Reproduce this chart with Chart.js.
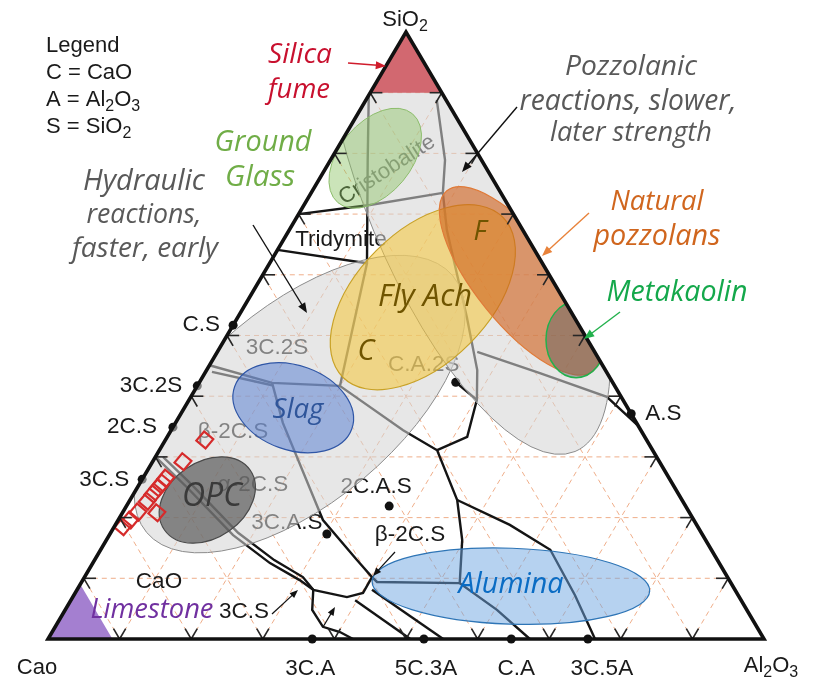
<!DOCTYPE html>
<html>
<head>
<meta charset="utf-8">
<title>CaO–Al2O3–SiO2 ternary map of cementitious materials</title>
<script src="https://cdn.jsdelivr.net/npm/chart.js@4.4.1/dist/chart.umd.min.js"></script>
<style>
  html, body { margin: 0; padding: 0; background: #ffffff; }
  canvas { display: block; }
</style>
</head>
<body>
<canvas id="chart" width="825" height="681" style="width:825px;height:681px"></canvas>
<script>
// Every composition is written as [Al2O3 %, SiO2 %]; CaO is the balance to 100 %.

// Grid steps along each side of the triangle (wt %)
const gridSteps = [10, 20, 30, 40, 50, 60, 70, 80, 90];

// Phase-field boundary curves
const tridymiteUpper   = [[0, 70.0], [9.2, 71.5], [18.4, 73.5]];
const tridymiteLower   = [[0, 64.1], [13.6, 61.9]];
const twoLiquidWest    = [[0, 89.6], [5.2, 78.9], [13.6, 61.9], [19.9, 41.8]];
const twoLiquidEast    = [[9.9, 88.8], [16.0, 78.9], [18.4, 73.5], [22.0, 67.4], [32.0, 53.0],
                          [37.8, 44.3], [40.2, 39.4], [41.9, 33.3], [38.8, 31.1]];
const wollastoniteEdge = [[0, 45.1], [10.2, 42.2], [19.9, 41.7], [32.4, 34.4], [38.8, 31.1],
                          [45.7, 22.9], [49.7, 16.3], [52.9, 9.2], [60.3, 4.8], [67.3, 0]];
const rankiniteEdge    = [[0.9, 44.0], [10.4, 41.8]];
const gehleniteEdge    = [[45.7, 22.9], [55.1, 18.8], [62.8, 14.7], [70.0, 7.2], [76.4, 0]];
const mulliteEdge      = [[36.3, 47.3], [46.8, 43.8], [58.1, 39.9], [64.6, 35.3]];
const anorthiteTie     = [[35.8, 42.3], [40.2, 39.4]];
const larniteEdge      = [[10.2, 42.2], [15.0, 35.6], [28.6, 19.6], [36.65, 13.0], [40.15, 10.2],
                          [41.25, 9.4], [52.9, 9.2]];
const aliteEdgeA       = [[0.3, 29.8], [6.9, 25.0], [17.3, 17.1], [24.75, 12.5], [30.3, 9.7],
                          [33.0, 8.1], [38.3, 6.9], [40.2, 7.6], [40.15, 10.2]];
const aliteEdgeB       = [[1.06, 30.0], [7.4, 25.4], [17.8, 17.5], [25.1, 13.0], [30.5, 10.2], [33.0, 8.1]];
const limeLoop         = [[33.0, 8.1], [34.5, 4.8], [37.4, 2.0], [40.2, 1.15], [42.6, 0]];
const mayeniteWest     = [[39.7, 6.4], [50.6, 0]];
const mayeniteEast     = [[41.2, 8.1], [55.2, 0]];

const phaseCurves = [tridymiteUpper, tridymiteLower, twoLiquidWest, twoLiquidEast, wollastoniteEdge,
                     rankiniteEdge, gehleniteEdge, mulliteEdge, anorthiteTie, larniteEdge,
                     aliteEdgeA, aliteEdgeB, limeLoop, mayeniteWest, mayeniteEast];

// Compounds
const compoundNames = ['C.S', '3C.2S', '2C.S', '3C.S', '3C.A', '5C.3A', 'C.A', '3C.5A',
                       'A.S', 'C.A.2S', '2C.A.S', '3C.A.S'];
const compoundComp  = [[0, 51.7], [0, 41.7], [0, 34.9], [0, 26.3], [36.9, 0], [52.5, 0], [64.7, 0], [75.4, 0],
                       [62.9, 37.1], [35.8, 42.3], [36.7, 21.9], [30.3, 17.3]];

// Individual binder samples (open red squares)
const sampleComp = [[1.2, 18.5], [1.65, 19.6], [2.1, 20.9], [2.5, 22.7], [2.7, 23.9], [2.9, 24.9],
                    [3.1, 25.7], [3.2, 26.5], [4.25, 29.2], [5.5, 32.8], [4.8, 20.8]];

// Material fields: centre composition, semi-axes (in % units) and tilt (degrees, anticlockwise)
const zones = [
  { at: [15.8, 38.7], a: 27.9, b: 13.7, angle: 40,   fill: 'rgba(212,212,212,0.56)', stroke: '#8c8c8c', lw: 1 },
  { at: [21.9, 73.5], a: 39.1, b: 14.2, angle: -67.5, fill: 'rgba(212,212,212,0.56)', stroke: '#8c8c8c', lw: 1 },
  { at: [6.1, 79.2],  a: 8.1,  b: 5.0,  angle: 50,   fill: 'rgba(140,195,100,0.45)', stroke: '#8dbd6c', lw: 1 },
  { at: [24.2, 56.3], a: 15.8, b: 9.2,  angle: 45,   fill: 'rgba(245,198,55,0.55)',  stroke: '#c9a227', lw: 1.2 },
  { at: [36.4, 59.0], a: 16.2, b: 6.1,  angle: -51,  fill: 'rgba(208,98,30,0.62)',   stroke: '#e07b39', lw: 1.2 },
  { at: [49.1, 49.3], a: 4.2,  b: 5.3,  angle: 0,    fill: 'rgba(100,100,100,0.5)',  stroke: '#22b14c', lw: 1.5 },
  { at: [15.2, 38.1], a: 8.7,  b: 5.9,  angle: -20,  fill: 'rgba(80,122,210,0.5)',   stroke: '#2f56a6', lw: 1.2 },
  { at: [10.8, 22.9], a: 7.3,  b: 5.3,  angle: 35,   fill: 'rgba(85,85,85,0.68)',    stroke: '#4a4a4a', lw: 1.2 },
  { at: [60.3, 8.7],  a: 19.4, b: 5.3,  angle: -2,   fill: 'rgba(110,165,225,0.5)',  stroke: '#2e75b6', lw: 1.2 },
  { corners: [[0, 100], [0, 90], [10, 90]], fill: 'rgba(205,72,82,0.8)' },
  { corners: [[0, 0], [9, 0], [0, 9]], fill: '#a47fd0' }
];

// ---------- helpers ----------
const toXY = ([a, s]) => ({ x: a + s / 2, y: s });

function px(chart, comp) {
  const p = toXY(comp);
  return [chart.scales.x.getPixelForValue(p.x), chart.scales.y.getPixelForValue(p.y)];
}

function trianglePath(chart) {
  const ctx = chart.ctx;
  const a = px(chart, [0, 0]), b = px(chart, [100, 0]), c = px(chart, [0, 100]);
  ctx.beginPath();
  ctx.moveTo(a[0], a[1]); ctx.lineTo(b[0], b[1]); ctx.lineTo(c[0], c[1]); ctx.closePath();
}

function seg(chart, p, q) {
  const ctx = chart.ctx;
  const [x1, y1] = px(chart, p), [x2, y2] = px(chart, q);
  ctx.beginPath(); ctx.moveTo(x1, y1); ctx.lineTo(x2, y2); ctx.stroke();
}

// Text with "_d" subscripts (e.g. Al_2O_3); an optional width fixes the rendered size
function richText(ctx, str, x, y, opt) {
  let size = opt.size || 22;
  const family = opt.family || '"Liberation Sans", Arial, sans-serif';
  const style = opt.style || '';
  const parts = [];
  let buf = '';
  for (let k = 0; k < str.length; k++) {
    if (str[k] === '_') {
      if (buf) parts.push({ t: buf, sub: false });
      buf = '';
      parts.push({ t: str[k + 1], sub: true });
      k++;
    } else buf += str[k];
  }
  if (buf) parts.push({ t: buf, sub: false });
  const measure = (sz) => {
    let w = 0;
    for (const p of parts) {
      ctx.font = `${style} ${p.sub ? Math.round(sz * 0.72) : sz}px ${family}`;
      p.w = ctx.measureText(p.t).width;
      w += p.w;
    }
    return w;
  };
  let w = measure(size);
  if (opt.width) { size = size * opt.width / w; w = measure(size); }
  const subSize = Math.round(size * 0.72);
  let cx = opt.align === 'center' ? x - w / 2 : opt.align === 'right' ? x - w : x;
  ctx.fillStyle = opt.color || '#1a1a1a';
  ctx.textAlign = 'left';
  ctx.textBaseline = 'middle';
  for (const p of parts) {
    ctx.font = `${style} ${p.sub ? subSize : size}px ${family}`;
    ctx.fillText(p.t, cx, p.sub ? y + size * 0.3 : y);
    cx += p.w;
  }
}

function arrow(ctx, from, to, color, width, head) {
  const [x1, y1] = from, [x2, y2] = to;
  const ang = Math.atan2(y2 - y1, x2 - x1);
  ctx.save();
  ctx.strokeStyle = color; ctx.fillStyle = color; ctx.lineWidth = width;
  ctx.beginPath(); ctx.moveTo(x1, y1);
  ctx.lineTo(x2 - Math.cos(ang) * head * 0.8, y2 - Math.sin(ang) * head * 0.8); ctx.stroke();
  ctx.beginPath();
  ctx.moveTo(x2, y2);
  ctx.lineTo(x2 - head * Math.cos(ang - 0.38), y2 - head * Math.sin(ang - 0.38));
  ctx.lineTo(x2 - head * Math.cos(ang + 0.38), y2 - head * Math.sin(ang + 0.38));
  ctx.closePath(); ctx.fill();
  ctx.restore();
}

// ---------- label layout ----------
const compoundLabelPlace = {
  'C.S':    [-13, 0, 'right'],
  '3C.2S':  [-15, 0, 'right'],
  '2C.S':   [-16, 0, 'right'],
  '3C.S':   [-13, 0, 'right'],
  '3C.A':   [-2, 30, 'center'],
  '5C.3A':  [2, 30, 'center'],
  'C.A':    [5, 30, 'center'],
  '3C.5A':  [14, 30, 'center'],
  'A.S':    [14, 0, 'left'],
  'C.A.2S': [-32, -17, 'center'],
  '2C.A.S': [-13, -19, 'center'],
  '3C.A.S': [-40, -11, 'center']
};

const phaseLabels = [
  { text: 'Tridymite', x: 341, y: 240 },
  { text: '3C.2S', x: 277, y: 348 },
  { text: 'β-2C.S', x: 233, y: 432 },
  { text: 'α-2C.S', x: 253, y: 485 },
  { text: 'β-2C.S', x: 410, y: 535 },
  { text: 'CaO', x: 159, y: 582 },
  { text: '3C.S', x: 244, y: 612 }
];

const notes = [
  { text: 'Silica', x: 300, y: 55, w: 64, color: '#c8102e' },
  { text: 'fume', x: 299, y: 90, w: 62, color: '#c8102e' },
  { text: 'Ground', x: 263, y: 143, w: 97, color: '#70ad47' },
  { text: 'Glass', x: 260, y: 178, w: 70, color: '#70ad47' },
  { text: 'Pozzolanic', x: 631, y: 67, w: 132, color: '#595959' },
  { text: 'reactions, slower,', x: 628, y: 102, w: 217, color: '#595959' },
  { text: 'later strength', x: 631, y: 133, w: 162, color: '#595959' },
  { text: 'Natural', x: 657, y: 202, w: 93, color: '#d0661e' },
  { text: 'pozzolans', x: 657, y: 237, w: 127, color: '#d0661e' },
  { text: 'Metakaolin', x: 677, y: 293, w: 141, color: '#14a84b' },
  { text: 'Hydraulic', x: 144, y: 182, w: 122, color: '#595959' },
  { text: 'reactions,', x: 144, y: 215, w: 115, color: '#595959' },
  { text: 'faster, early', x: 145, y: 249, w: 146, color: '#595959' },
  { text: 'Fly Ach', x: 425, y: 297, w: 94, color: '#6f5400' },
  { text: 'C', x: 366, y: 352, w: 17, color: '#6f5400' },
  { text: 'F', x: 480, y: 232, w: 13, color: '#6f5400' },
  { text: 'Slag', x: 298, y: 410, w: 51, color: '#2f559a' },
  { text: 'OPC', x: 212, y: 497, w: 60, color: '#3a3a3a' },
  { text: 'Alumina', x: 511, y: 585, w: 105, color: '#0a6cc4' },
  { text: 'Limestone', x: 152, y: 610, w: 123, color: '#7030a0' }
];

const pointers = [
  { from: [348, 63], to: [386, 66], color: '#d01c2c', w: 1.4, head: 11 },
  { from: [517, 107], to: [462, 172], color: '#111111', w: 1.4, head: 11 },
  { from: [253, 225], to: [307, 313], color: '#111111', w: 1.4, head: 11 },
  { from: [589, 213], to: [542, 256], color: '#e8823a', w: 1.4, head: 11 },
  { from: [620, 312], to: [584, 339], color: '#22b14c', w: 1.4, head: 11 },
  { from: [395, 552], to: [373, 576], color: '#111111', w: 1.2, head: 9 },
  { from: [272, 614], to: [298, 590], color: '#111111', w: 1.2, head: 9 },
  { from: [323, 627], to: [335, 607], color: '#111111', w: 1.2, head: 9 }
];

const legendLines = ['Legend', 'C = CaO', 'A = Al_2O_3', 'S = SiO_2'];

// ---------- drawing plugin ----------
const ternaryPlugin = {
  id: 'ternaryFrame',
  beforeDatasetsDraw(chart) {
    const ctx = chart.ctx;
    ctx.save();
    ctx.setLineDash([5, 4]);
    ctx.strokeStyle = 'rgba(236,160,118,0.85)';
    ctx.lineWidth = 1;
    for (const k of gridSteps) {
      seg(chart, [0, k], [100 - k, k]);
      seg(chart, [k, 0], [k, 100 - k]);
      seg(chart, [100 - k, 0], [0, 100 - k]);
    }
    ctx.restore();
  },
  beforeDatasetDraw(chart, args) {
    if (chart.data.datasets[args.index].label !== 'samples') return;
    const ctx = chart.ctx;
    ctx.save();
    // compound and phase-field names (sit under the translucent fields)
    compoundNames.forEach((name, i) => {
      const [x, y] = px(chart, compoundComp[i]);
      const [dx, dy, align] = compoundLabelPlace[name];
      richText(ctx, name, x + dx, y + dy, { size: 22.5, align });
    });
    for (const l of phaseLabels) richText(ctx, l.text, l.x, l.y, { size: 22.5, align: 'center' });
    ctx.save();
    ctx.translate(387, 170);
    ctx.rotate(-33 * Math.PI / 180);
    richText(ctx, 'Cristobalite', 0, 0, { size: 22, align: 'center' });
    ctx.restore();

    // material fields
    const unit = chart.scales.x.getPixelForValue(1) - chart.scales.x.getPixelForValue(0);
    trianglePath(chart);
    ctx.clip();
    for (const z of zones) {
      ctx.beginPath();
      if (z.corners) {
        z.corners.forEach((c, i) => {
          const [x, y] = px(chart, c);
          if (i === 0) ctx.moveTo(x, y); else ctx.lineTo(x, y);
        });
        ctx.closePath();
      } else {
        const [cx, cy] = px(chart, z.at);
        ctx.ellipse(cx, cy, z.a * unit, z.b * unit, -z.angle * Math.PI / 180, 0, Math.PI * 2);
      }
      ctx.fillStyle = z.fill;
      ctx.fill();
      if (z.stroke) { ctx.strokeStyle = z.stroke; ctx.lineWidth = z.lw; ctx.stroke(); }
    }
    ctx.restore();
  },
  afterDatasetsDraw(chart) {
    const ctx = chart.ctx;
    ctx.save();
    // edge ticks at every grid step
    ctx.strokeStyle = '#262626';
    ctx.lineWidth = 1.6;
    const t = 1.7;
    for (const k of gridSteps) {
      seg(chart, [k, 0], [k, t]);
      seg(chart, [k, 0], [k - t, t]);
      seg(chart, [0, k], [t, k]);
      seg(chart, [0, k], [t, k - t]);
      seg(chart, [100 - k, k], [100 - k - t, k]);
      seg(chart, [100 - k, k], [100 - k, k - t]);
    }
    // triangle frame
    ctx.lineWidth = 3.6;
    ctx.lineJoin = 'miter';
    ctx.strokeStyle = '#111111';
    trianglePath(chart);
    ctx.stroke();

    // corner names
    richText(ctx, 'SiO_2', 405, 20, { size: 22, align: 'center' });
    richText(ctx, 'Cao', 37, 668, { size: 22, align: 'center' });
    richText(ctx, 'Al_2O_3', 771, 666, { size: 22, align: 'center' });

    // legend block
    legendLines.forEach((l, i) => richText(ctx, l, 46, 46 + i * 27, { size: 22, align: 'left' }));

    // annotations
    for (const n of notes) {
      richText(ctx, n.text, n.x, n.y, {
        size: 26, width: n.w, align: 'center', color: n.color, style: 'italic',
        family: '"Open Sans", "Noto Sans", sans-serif'
      });
    }
    for (const p of pointers) arrow(ctx, p.from, p.to, p.color, p.w, p.head);
    ctx.restore();
  }
};

// ---------- chart ----------
const datasets = [];
datasets.push({
  label: 'samples',
  data: sampleComp.map(toXY),
  pointStyle: 'rect',
  rotation: 40,
  pointRadius: 8.5,
  borderColor: '#d62b2b',
  borderWidth: 2.2,
  backgroundColor: 'rgba(0,0,0,0)',
  showLine: false,
  order: 0
});
datasets.push({
  label: 'compounds',
  data: compoundComp.map(toXY),
  pointRadius: 4.5,
  backgroundColor: '#111111',
  borderWidth: 0,
  showLine: false,
  order: 1
});
phaseCurves.forEach((curve, i) => datasets.push({
  label: 'boundary ' + i,
  data: curve.map(toXY),
  showLine: true,
  borderColor: '#141414',
  borderWidth: 2.4,
  pointRadius: 0,
  tension: 0,
  fill: false,
  order: 2
}));

new Chart(document.getElementById('chart'), {
  type: 'scatter',
  data: { datasets },
  options: {
    responsive: false,
    animation: false,
    events: [],
    layout: { padding: 0, autoPadding: false },
    plugins: { legend: { display: false }, tooltip: { enabled: false } },
    scales: {
      x: { type: 'linear', min: -6.704, max: 108.519, display: false },
      y: { type: 'linear', min: -6.92, max: 105.27, display: false }
    }
  },
  plugins: [ternaryPlugin]
});
</script>
</body>
</html>
